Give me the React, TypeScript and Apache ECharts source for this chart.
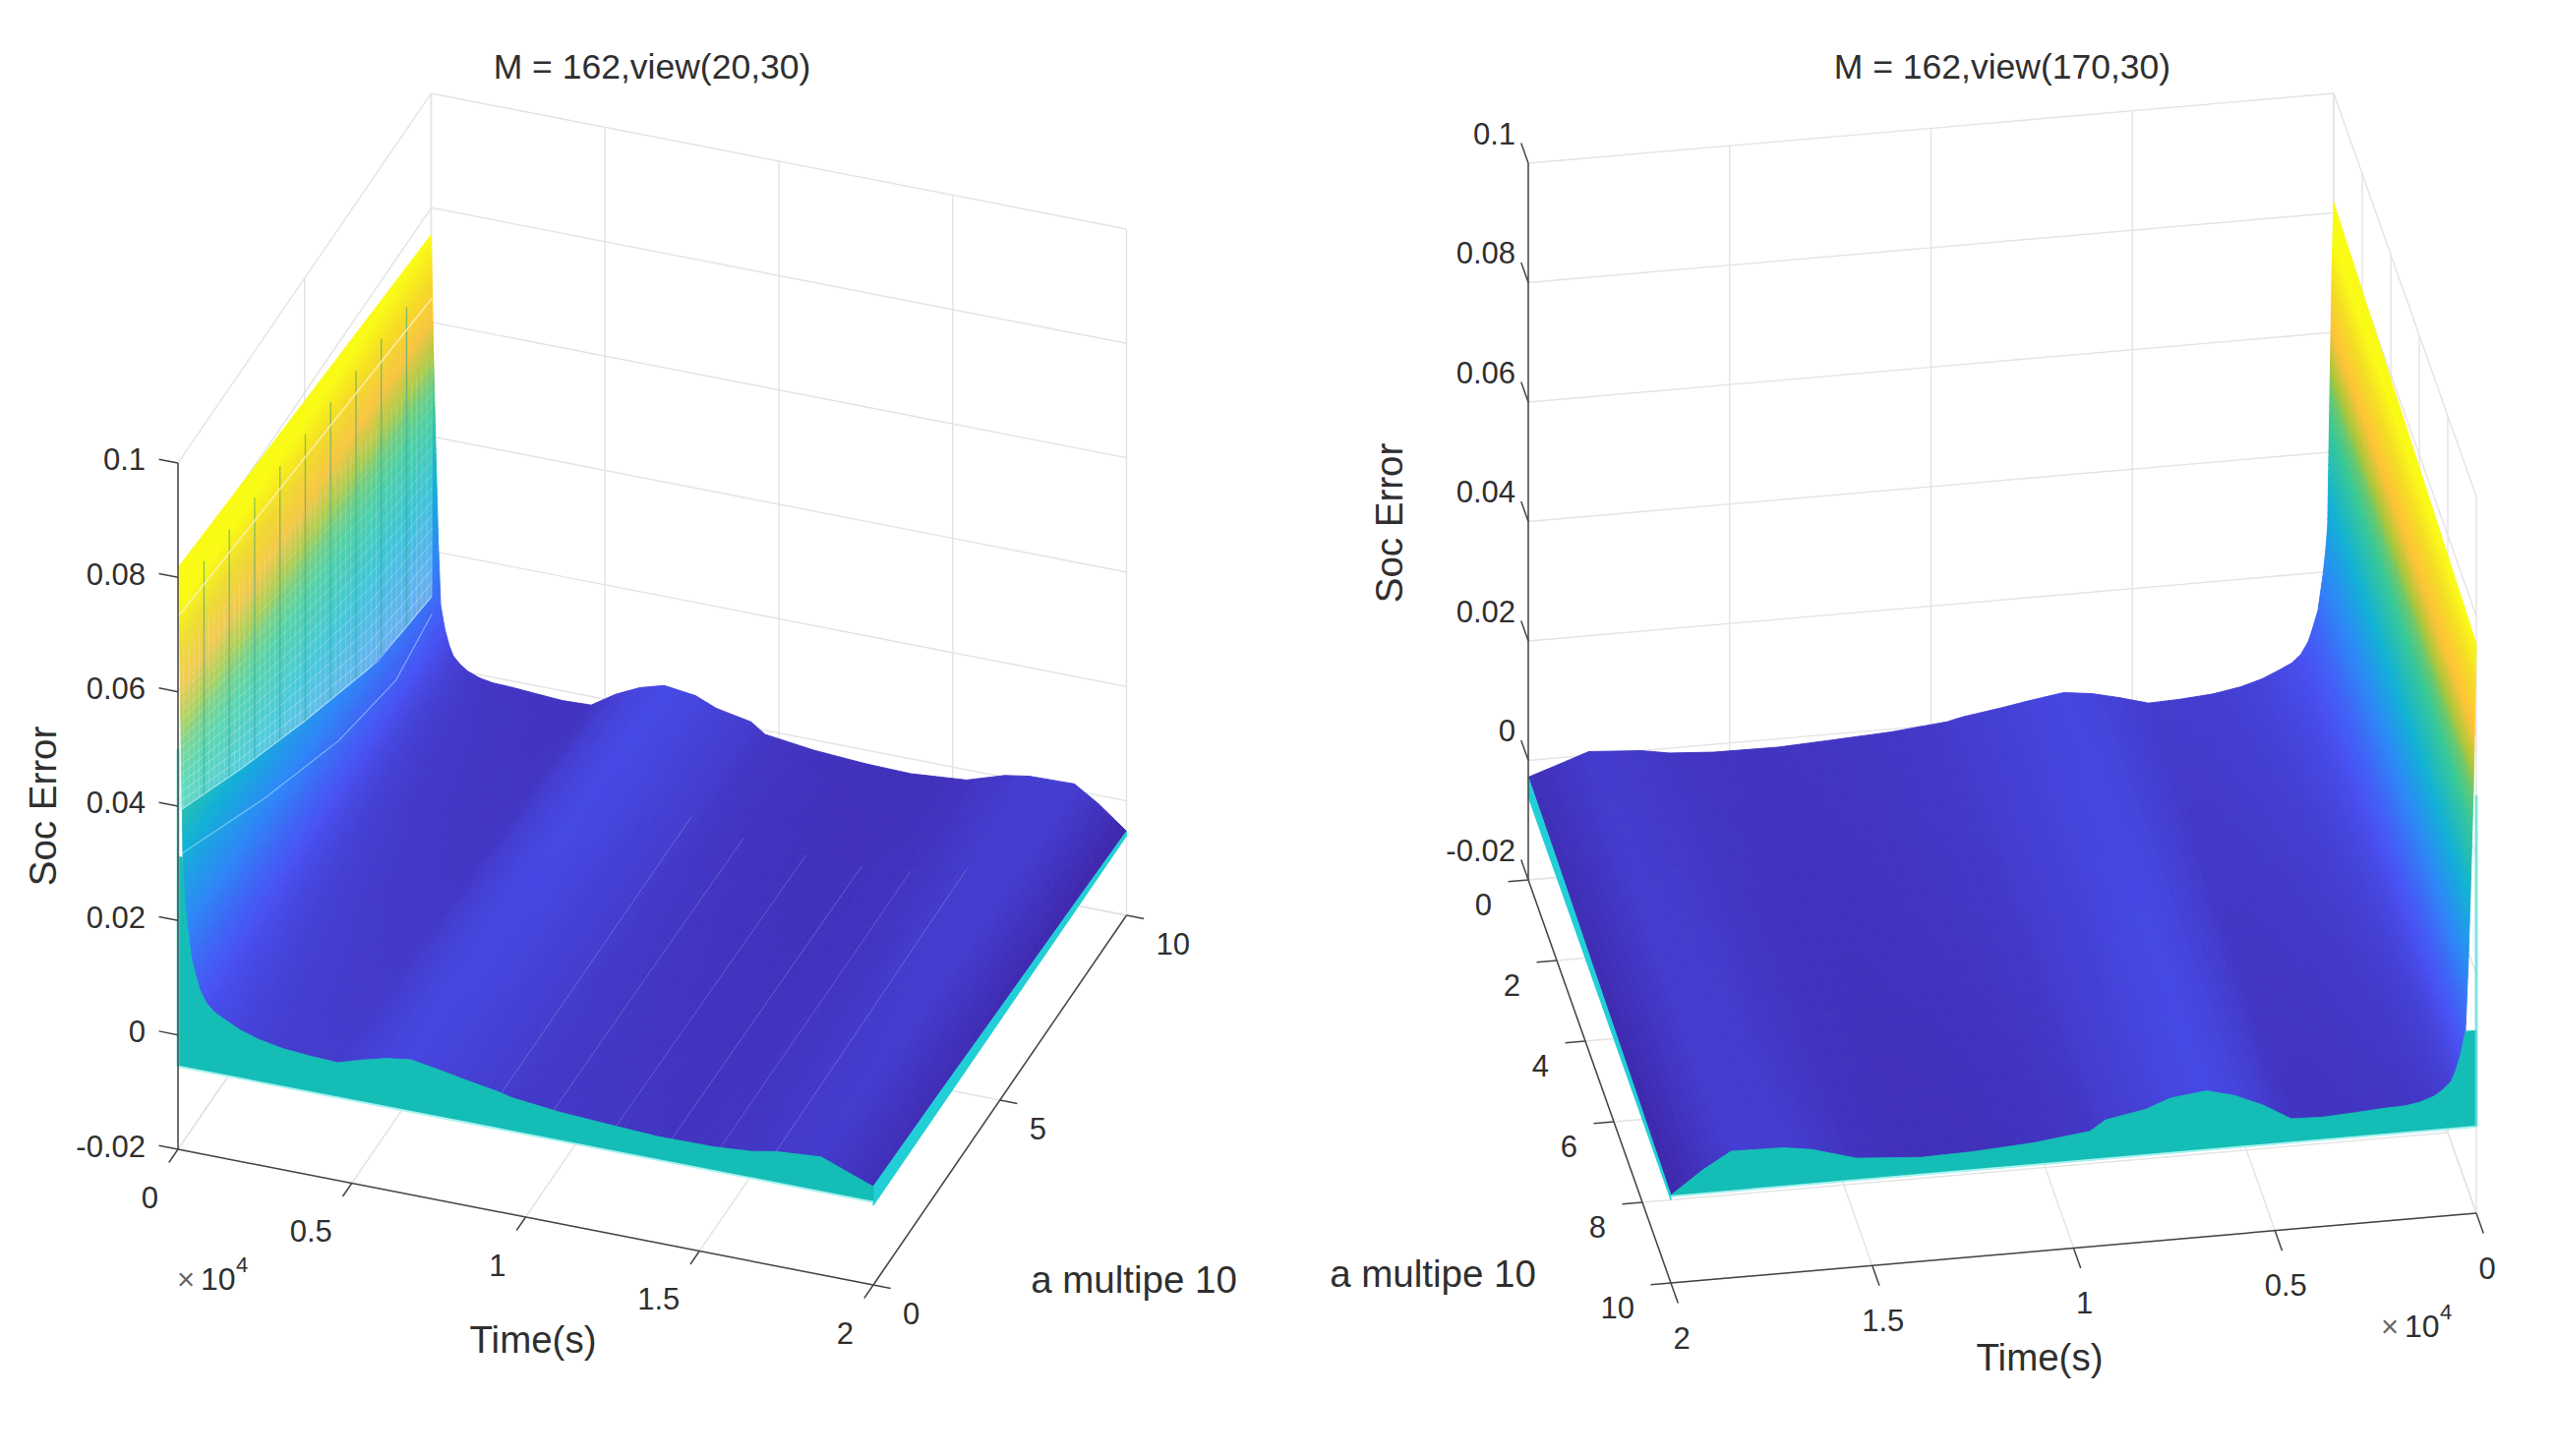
import React, { useEffect, useRef } from "react";
import * as echarts from "echarts";

const tGrid = [0, 0.004, 0.007, 0.012, 0.015, 0.02, 0.027, 0.039, 0.052, 0.063, 0.082, 0.105, 0.14, 0.178, 0.23, 0.3, 0.38, 0.46, 0.53, 0.6, 0.67, 0.76, 0.82, 0.92, 0.96, 1.1, 1.25, 1.38, 1.54, 1.65, 1.72, 1.85, 1.92, 2];
const aGrid = [0, 2.5, 5, 7.5, 10];
const socA0 = [0.0817, 0.072, 0.0603, 0.0403, 0.0277, 0.0235, 0.0193, 0.0137, 0.0108, 0.0086, 0.0065, 0.0052, 0.0041, 0.003, 0.002, 0.0012, 0.0008, 0.0006, 0.0019, 0.003, 0.0036, 0.0027, 0.002, 0.001, 0.0004, -0.0005, -0.001, -0.0014, -0.0013, -0.0008, 0, 0.0006, -0.001, -0.0028];
const socA25 = [0.0801, 0.0695, 0.0565, 0.0378, 0.0268, 0.0218, 0.0172, 0.012, 0.009, 0.007, 0.0052, 0.004, 0.003, 0.002, 0.0012, 0.0005, 0.0001, 0, 0.0018, 0.0031, 0.0038, 0.003, 0.0021, 0.001, 0.0002, -0.0008, -0.0013, -0.0017, -0.0014, -0.0007, 0.0002, 0.0008, -0.0011, -0.0033];
const socA5 = [0.0785, 0.066, 0.053, 0.0355, 0.0258, 0.02, 0.015, 0.01, 0.0072, 0.0054, 0.0038, 0.0026, 0.0016, 0.0008, 0.0002, -0.0003, -0.0006, -0.0006, 0.0016, 0.0032, 0.0041, 0.0032, 0.0021, 0.001, -0.0001, -0.0011, -0.0017, -0.002, -0.0016, -0.0006, 0.0005, 0.001, -0.0012, -0.004];
const socA75 = [0.0769, 0.062, 0.049, 0.0325, 0.0248, 0.0182, 0.013, 0.0084, 0.0055, 0.0039, 0.0025, 0.0014, 0.0005, -0.0001, -0.0005, -0.0009, -0.0012, -0.0011, 0.0014, 0.0032, 0.0043, 0.0035, 0.0022, 0.001, -0.0004, -0.0015, -0.0021, -0.0023, -0.0017, -0.0004, 0.0007, 0.0011, -0.0014, -0.0046];
const socA10 = [0.0753, 0.062, 0.052, 0.04, 0.033, 0.022, 0.0108, 0.0068, 0.004, 0.0024, 0.0012, 0.0002, -0.0006, -0.001, -0.0011, -0.0014, -0.0017, -0.0015, 0.0012, 0.0032, 0.0044, 0.0037, 0.0022, 0.001, -0.0007, -0.0018, -0.0024, -0.0026, -0.0018, 0.0003, 0.001, 0.0012, -0.0015, -0.0053];
const socRows = [socA0, socA25, socA5, socA75, socA10];
const skirtFloor = -0.0055;

const zTicks = [-0.02, 0, 0.02, 0.04, 0.06, 0.08, 0.1];
const zLabels = ["-0.02", "0", "0.02", "0.04", "0.06", "0.08", "0.1"];
const tTicks = [0, 0.5, 1, 1.5, 2];
const tLabels = ["0", "0.5", "1", "1.5", "2"];
const aTicksLeft = [0, 5, 10];
const aTicksRight = [0, 2, 4, 6, 8, 10];

// Moire features of the left view (a position, Soc Error value)
const meshArcA = [0, 2.5, 4.85, 7.84, 10];
const meshArcZ = [0.0391, 0.0305, 0.0231, 0.0146, 0.0121];
const meshTopA = [0, 10];
const meshTopZ = [0.0733, 0.0642];
const blueArcA = [0, 3.38, 6.33, 8.58, 10];
const blueArcZ = [0.0314, 0.0195, 0.0106, 0.0066, 0.009];
const meshRibs = [1, 2, 3, 4, 5, 6, 7, 8, 9];
const moireTimes = [0.93, 1.08, 1.26, 1.42, 1.56, 1.72];

const PARULA = [[62, 38, 168], [72, 82, 244], [45, 135, 247], [17, 177, 214], [55, 200, 151], [171, 199, 57], [254, 195, 55], [245, 219, 38], [249, 251, 21]];
const parula = (z: number) => {
  let g = (z - skirtFloor) / 0.1;
  if (z > 0.0605) g = 0.75 + ((z - 0.0605) / 0.0145) * 0.25;
  else if (z > 0.05) g = 0.555 + ((z - 0.05) / 0.0105) * 0.195;
  const f = Math.max(0, Math.min(0.9999, g)) * 8;
  const i = Math.floor(f);
  const m = f - i;
  const c = PARULA[i].map((v, k) => Math.round(v + (PARULA[i + 1][k] - v) * m));
  return `rgb(${c[0]},${c[1]},${c[2]})`;
};

const lerpTable = (xs: number[], ys: number[], x: number) => {
  for (let i = 0; i < xs.length - 1; i++) if (x <= xs[i + 1]) return ys[i] + ((ys[i + 1] - ys[i]) * (x - xs[i])) / (xs[i + 1] - xs[i]);
  return ys[ys.length - 1];
};

type Panel = any;
const LEFT: Panel = {
  origin: [181, 1169], tv: [353.5, 69], av: [25.75, -37.6], zs: 5817, aTicks: aTicksLeft,
  nearRow: 0, aOrder: [3, 2, 1, 0], nearA: 0, farA: 10, zAxisT: 0, zAxisA: 0, aAxisT: 2, tAxisA: 0, wallMax: 0.0312,
  zTick: [-0.055, 0], zLabel: { dx: -33, dy: -3 }, tTick: [0, -0.36], tLabelDx: -20, tLabelDy: 49, tAlign: "right",
  aTick: [0.05, 0], aLabelDx: 30, aLabelDy: 29, aAlign: "left",
  title: { text: "M = 162,view(20,30)", x: 663, y: 68 }, soc: { x: 43, y: 820 }, time: { x: 542, y: 1362 }, multi: { x: 1153, y: 1301 },
  exp: { x: 179, y: 1301 },
};
const RIGHT: Panel = {
  origin: [2373, 824], tv: [-409.5, 35.5], av: [14.5, 41], zs: 6075, aTicks: aTicksRight,
  nearRow: 4, aOrder: [0, 1, 2, 3], nearA: 10, farA: 0, zAxisT: 2, zAxisA: 0, aAxisT: 2, tAxisA: 10, wallMax: 0.0106,
  zTick: [0, -0.5], zLabel: { dx: -13, dy: -30 }, tTick: [0, 0.5], tLabelDx: 11, tLabelDy: 56, tAlign: "center",
  aTick: [0.05, 0], aLabelDx: -37, aLabelDy: 25, aAlign: "right",
  title: { text: "M = 162,view(170,30)", x: 2036, y: 68 }, soc: { x: 1412, y: 532 }, time: { x: 2074, y: 1380 }, multi: { x: 1457, y: 1295 },
  exp: { x: 2420, y: 1349 },
};

const project = (p: Panel, t: number, a: number, z: number): [number, number] => [
  p.origin[0] + p.tv[0] * t + p.av[0] * a,
  p.origin[1] + p.tv[1] * t + p.av[1] * a - (z + 0.02) * p.zs,
];

const TEXT = "#2f2f2f";
const FONT = "'Liberation Sans', Arial, sans-serif";
const GRID = "#e3e3e3";
const AXIS = "#444444";

const surfaceCells = (p: Panel) => {
  const out: number[][] = [];
  p.aOrder.forEach((ai: number) => {
    for (let ti = 0; ti < tGrid.length - 1; ti++) out.push([ti, ai]);
  });
  return out;
};

const renderSurface = (p: Panel) => (_: any, api: any) => {
  const ti = api.value(0);
  const ai = api.value(1);
  const pt = (t: number, a: number, z: number) => api.coord(project(p, t, a, z));
  const t0 = tGrid[ti], t1 = tGrid[ti + 1], a0 = aGrid[ai], a1 = aGrid[ai + 1];
  const z00 = socRows[ai][ti], z10 = socRows[ai][ti + 1], z01 = socRows[ai + 1][ti], z11 = socRows[ai + 1][ti + 1];
  const dz = Math.max(Math.abs(z00 - z10), Math.abs(z01 - z11));
  const nT = Math.max(4, Math.min(16, Math.ceil(dz / 0.0012)));
  const nA = 5;
  const zAt = (u: number, v: number) => z00 * (1 - u) * (1 - v) + z10 * u * (1 - v) + z01 * (1 - u) * v + z11 * u * v;
  const children: any[] = [];
  const forward = p.nearA === 10;
  for (let jj = 0; jj < nA; jj++) {
    const j = forward ? jj : nA - 1 - jj;
    const v0 = j / nA, v1 = (j + 1) / nA;
    for (let i = 0; i < nT; i++) {
      const u0 = i / nT, u1 = (i + 1) / nT;
      const ta = t0 + (t1 - t0) * u0, tb = t0 + (t1 - t0) * u1;
      const aa = a0 + (a1 - a0) * v0, ab = a0 + (a1 - a0) * v1;
      const color = parula(zAt((u0 + u1) / 2, (v0 + v1) / 2));
      children.push({
        type: "polygon",
        shape: { points: [pt(ta, aa, zAt(u0, v0)), pt(tb, aa, zAt(u1, v0)), pt(tb, ab, zAt(u1, v1)), pt(ta, ab, zAt(u0, v1))] },
        style: { fill: color, stroke: color, lineWidth: 0.9 },
      });
    }
  }
  return { type: "group", children };
};

const renderGrid = (p: Panel) => (_: any, api: any) => {
  const ln = (a: number[], b: number[]) => {
    const s = api.coord(a), e = api.coord(b);
    return { type: "line", shape: { x1: s[0], y1: s[1], x2: e[0], y2: e[1] }, style: { stroke: GRID, lineWidth: 1.4 } };
  };
  const P = (t: number, a: number, z: number) => project(p, t, a, z);
  const ch: any[] = [];
  const zLo = zTicks[0], zHi = zTicks[zTicks.length - 1];
  zTicks.forEach((z) => {
    ch.push(ln(P(0, p.farA, z), P(2, p.farA, z)));
    ch.push(ln(P(0, 0, z), P(0, 10, z)));
  });
  tTicks.forEach((t) => {
    ch.push(ln(P(t, p.farA, zLo), P(t, p.farA, zHi)));
    ch.push(ln(P(t, 0, zLo), P(t, 10, zLo)));
  });
  p.aTicks.forEach((a: number) => {
    ch.push(ln(P(0, a, zLo), P(0, a, zHi)));
    ch.push(ln(P(0, a, zLo), P(2, a, zLo)));
  });
  return { type: "group", children: ch };
};

const renderWalls = (p: Panel) => (_: any, api: any) => {
  const pt = (t: number, a: number, z: number) => api.coord(project(p, t, a, z));
  const ch: any[] = [];
  const endTop: number[][] = [], endBot: number[][] = [];
  aGrid.forEach((a, r) => {
    endTop.push(pt(2, a, socRows[r][tGrid.length - 1]));
    endBot.push(pt(2, a, skirtFloor - 0.0006));
  });
  ch.push({ type: "polygon", shape: { points: [...endTop, ...endBot.reverse()] }, style: { fill: "#22cfd6", stroke: "#22cfd6", lineWidth: 1 } });
  const top: number[][] = [], bot: number[][] = [];
  tGrid.forEach((t, i) => {
    const z = Math.min(socRows[p.nearRow][i], p.wallMax);
    top.push(pt(t, p.nearA, z));
    bot.push(pt(t, p.nearA, skirtFloor));
  });
  ch.push({ type: "polygon", shape: { points: [...top, ...bot.slice().reverse()] }, style: { fill: "#14bdb6", stroke: "#14bdb6", lineWidth: 0.8 } });
  ch.push({ type: "polyline", shape: { points: [bot[0], bot[bot.length - 1]] }, style: { fill: "none", stroke: "#a8f3f0", lineWidth: 2 } });
  const s = pt(0, p.nearA, skirtFloor), e = pt(0, p.nearA, 0.05);
  ch.push({ type: "line", shape: { x1: s[0], y1: s[1], x2: e[0], y2: e[1] }, style: { stroke: "#5fe0da", lineWidth: 3, opacity: 0.75 } });
  return { type: "group", children: ch };
};

const renderMoire = (p: Panel) => (_: any, api: any) => {
  const pt = (a: number, z: number) => api.coord(project(p, 0.002, a, z));
  const ch: any[] = [];
  const zLow = (a: number) => lerpTable(meshArcA, meshArcZ, a);
  const zTop = (a: number) => lerpTable(meshTopA, meshTopZ, a);
  const N = 22;
  const As = [0, 1.25, 2.5, 3.75, 5, 6.25, 7.5, 8.75, 10];
  for (let k = 0; k < N; k++) {
    const f0 = k / N, f1 = (k + 1) / N;
    const lower = As.map((a) => pt(a, zLow(a) + (zTop(a) - zLow(a)) * f0));
    const upper = As.map((a) => pt(a, zLow(a) + (zTop(a) - zLow(a)) * f1));
    ch.push({ type: "polygon", shape: { points: [...lower, ...upper.reverse()] }, style: { fill: "#a6f2e2", opacity: 0.42 * Math.pow(1 - f0, 1.1) + 0.02 } });
    ch.push({ type: "polyline", shape: { points: lower }, style: { fill: "none", stroke: "#ffffff", lineWidth: 1, opacity: 0.4 * (1 - f0) } });
  }
  for (let a = 0.2; a < 10; a += 0.2) {
    const s = pt(a, zLow(a)), e = pt(a, zLow(a) + (zTop(a) - zLow(a)) * 0.8);
    ch.push({ type: "line", shape: { x1: s[0], y1: s[1], x2: e[0], y2: e[1] }, style: { stroke: "#ffffff", lineWidth: 1, opacity: 0.2 } });
  }
  meshRibs.forEach((a) => {
    const s = pt(a, zLow(a)), e = pt(a, zTop(a) + 0.004);
    ch.push({ type: "line", shape: { x1: s[0], y1: s[1], x2: e[0], y2: e[1] }, style: { stroke: "#1f9a90", lineWidth: 1.3, opacity: 0.55 } });
  });
  const top = pt(0, meshTopZ[0]), topE = pt(10, meshTopZ[1]);
  ch.push({ type: "line", shape: { x1: top[0], y1: top[1], x2: topE[0], y2: topE[1] }, style: { stroke: "#fff0b8", lineWidth: 1.6, opacity: 0.85 } });
  [meshArcZ, blueArcZ].forEach((zs, idx) => {
    const xs = idx === 0 ? meshArcA : blueArcA;
    ch.push({ type: "polyline", shape: { points: xs.map((a, i) => pt(a, zs[i])) }, style: { fill: "none", stroke: "#d5fbff", lineWidth: 1.2, opacity: 0.45 } });
  });
  moireTimes.forEach((t) => {
    const pts: number[][] = [];
    aGrid.slice(0, 4).forEach((a, r) => pts.push(api.coord(project(p, t, a, lerpTable(tGrid, socRows[r], t)))));
    ch.push({ type: "polyline", shape: { points: pts }, style: { fill: "none", stroke: "#ffffff", lineWidth: 1, opacity: 0.2 } });
  });
  return { type: "group", children: ch };
};

const renderAxes = (p: Panel) => (_: any, api: any) => {
  const P = (t: number, a: number, z: number) => api.coord(project(p, t, a, z));
  const ln = (s: number[], e: number[], w = 1.5) => ({ type: "line", shape: { x1: s[0], y1: s[1], x2: e[0], y2: e[1] }, style: { stroke: AXIS, lineWidth: w } });
  const txt = (text: string, x: number, y: number, fontSize: number, align = "center", rotation = 0, fill = TEXT) => {
    const c = api.coord([x, y]);
    return { type: "text", x: c[0], y: c[1], rotation, style: { text, x: 0, y: 0, fontSize, fontFamily: FONT, fill, align, verticalAlign: "middle" } };
  };
  const zLo = zTicks[0], zHi = zTicks[zTicks.length - 1];
  const ch: any[] = [];
  ch.push(ln(P(p.zAxisT, p.zAxisA, zLo), P(p.zAxisT, p.zAxisA, zHi)));
  ch.push(ln(P(0, p.tAxisA, zLo), P(2, p.tAxisA, zLo)));
  ch.push(ln(P(p.aAxisT, 0, zLo), P(p.aAxisT, 10, zLo)));
  zTicks.forEach((z, i) => {
    const s = P(p.zAxisT, p.zAxisA, z);
    ch.push(ln(s, P(p.zAxisT + p.zTick[0], p.zAxisA + p.zTick[1], z)));
    const w = project(p, p.zAxisT, p.zAxisA, z);
    ch.push(txt(zLabels[i], w[0] + p.zLabel.dx, w[1] + p.zLabel.dy, 31, "right"));
  });
  tTicks.forEach((t, i) => {
    ch.push(ln(P(t, p.tAxisA, zLo), P(t + p.tTick[0], p.tAxisA + p.tTick[1], zLo)));
    const w = project(p, t, p.tAxisA, zLo);
    ch.push(txt(tLabels[i], w[0] + p.tLabelDx, w[1] + p.tLabelDy, 31, p.tAlign));
  });
  p.aTicks.forEach((a: number) => {
    ch.push(ln(P(p.aAxisT, a, zLo), P(p.aAxisT + p.aTick[0], a, zLo)));
    const w = project(p, p.aAxisT, a, zLo);
    ch.push(txt(String(a), w[0] + p.aLabelDx, w[1] + p.aLabelDy, 31, p.aAlign));
  });
  ch.push(txt(p.title.text, p.title.x, p.title.y, 35.5));
  ch.push(txt("Soc Error", p.soc.x, p.soc.y, 38.5, "center", Math.PI / 2));
  ch.push(txt("Time(s)", p.time.x, p.time.y, 38.5));
  ch.push(txt("a multipe 10", p.multi.x, p.multi.y, 38.5));
  ch.push(txt("×", p.exp.x + 10, p.exp.y, 31, "center", 0, "#666666"));
  ch.push(txt("10", p.exp.x + 25, p.exp.y, 32, "left"));
  ch.push(txt("4", p.exp.x + 61, p.exp.y - 15, 22, "left"));
  return { type: "group", children: ch };
};

const customSeries = (renderItem: any, data: number[][]) => ({
  type: "custom",
  coordinateSystem: "cartesian2d",
  renderItem,
  data,
  silent: true,
  clip: false,
  encode: { x: 0, y: 1 },
});

const buildOption = () => ({
  animation: false,
  backgroundColor: "#ffffff",
  grid: { left: 0, right: 0, top: 0, bottom: 0 },
  xAxis: { type: "value", min: 0, max: 2598, show: false },
  yAxis: { type: "value", min: 0, max: 1481, inverse: true, show: false },
  tooltip: { show: false },
  series: [
    customSeries(renderGrid(LEFT), [[0, 0]]),
    customSeries(renderSurface(LEFT), surfaceCells(LEFT)),
    customSeries(renderMoire(LEFT), [[0, 0]]),
    customSeries(renderWalls(LEFT), [[0, 0]]),
    customSeries(renderAxes(LEFT), [[0, 0]]),
    customSeries(renderGrid(RIGHT), [[0, 0]]),
    customSeries(renderSurface(RIGHT), surfaceCells(RIGHT)),
    customSeries(renderWalls(RIGHT), [[0, 0]]),
    customSeries(renderAxes(RIGHT), [[0, 0]]),
  ],
});

export default function App() {
  const ref = useRef<HTMLDivElement | null>(null);
  useEffect(() => {
    document.body.style.margin = "0";
    const chart = echarts.init(ref.current as HTMLDivElement, undefined, { renderer: "svg" });
    chart.setOption(buildOption() as any);
    return () => chart.dispose();
  }, []);
  return <div ref={ref} style={{ width: 2598, height: 1481, background: "#fff" }} />;
}
